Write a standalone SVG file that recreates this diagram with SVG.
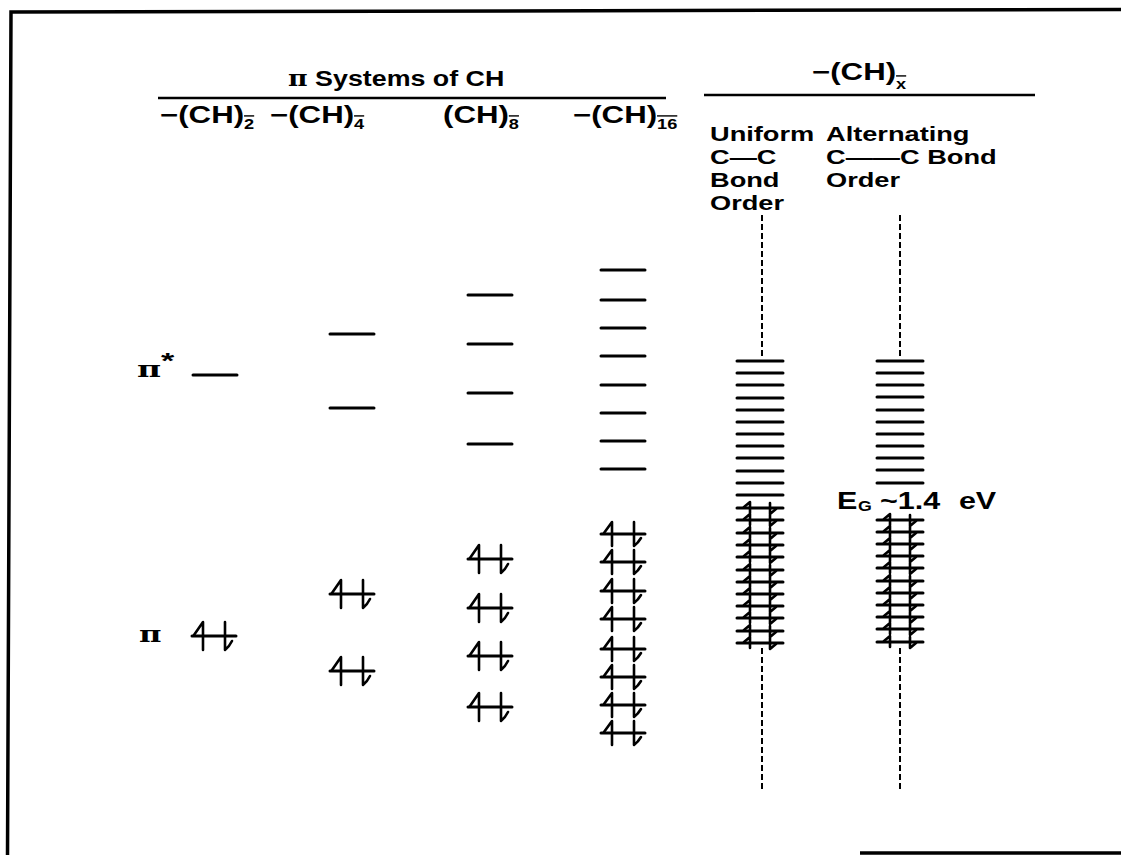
<svg xmlns="http://www.w3.org/2000/svg" width="1121" height="855" viewBox="0 0 1121 855">
  <style>
    .t { font-family: "Liberation Sans", Arial, sans-serif; font-weight: bold; font-size: 22px; fill: #000; }
    .lab { font-size: 24px; }
    .col { font-size: 20px; }
    .sub { font-size: 14px; }
    .pi { font-family: "DejaVu Serif", "Liberation Serif", serif; font-weight: bold; }
    .lvl { stroke: #000; stroke-width: 3; fill: none; stroke-linecap: round; }
    .rule { stroke: #000; stroke-width: 2.5; fill: none; }
    .dash { stroke: #000; stroke-width: 2; stroke-dasharray: 6 3; fill: none; }
    .arr { stroke: #000; stroke-width: 2.6; fill: none; stroke-linecap: round; stroke-linejoin: round; }
    .frame { stroke: #000; stroke-width: 3.5; fill: none; }
  </style>
  <defs>
    <!-- doubly occupied orbital: level with an up and a down half-arrow -->
    <g id="pair">
      <line class="lvl" x1="-22" y1="0" x2="22" y2="0"/>
      <path class="arr" d="M-11 14 V-14 L-20 -1"/>
      <path class="arr" d="M11 -14 V14 Q15 11 18 5"/>
    </g>
    <!-- tighter pair for the dense column -->
    <g id="pairTight">
      <line class="lvl" x1="-22" y1="0" x2="22" y2="0"/>
      <path class="arr" d="M-11 12 V-12 L-19 -1"/>
      <path class="arr" d="M11 -12 V12 Q15 9 18 4"/>
    </g>
    <!-- occupied level inside a band -->
    <g id="bandPair">
      <line class="lvl" x1="-23" y1="0" x2="23" y2="0"/>
      <path class="arr" d="M-10 5 V-6 L-16 -1"/>
      <path class="arr" d="M10 -5 V6 L16 1"/>
    </g>
    <line id="lv" class="lvl" x1="-22" y1="0" x2="22" y2="0"/>
    <line id="bandLv" class="lvl" x1="-23" y1="0" x2="23" y2="0"/>
  </defs>

  <!-- page frame (right side runs off the sheet) -->
  <path class="frame" d="M1125 9.5 L11 12 L7.5 858"/>
  <line class="frame" x1="860" y1="853" x2="1125" y2="853"/>

  <!-- headings -->
  <g id="headings">
    <text class="t" transform="translate(288 86) scale(1.22 1)"><tspan class="pi">π</tspan> Systems of CH</text>
    <line class="rule" x1="158" y1="98" x2="666" y2="98"/>
    <text class="t lab" transform="translate(812 80) scale(1.3 1)">−(CH)<tspan class="sub" dy="9" text-decoration="overline">x</tspan></text>
    <line class="rule" x1="704" y1="95" x2="1035" y2="95"/>
    <text class="t lab" transform="translate(160 123) scale(1.3 1)">−(CH)<tspan class="sub" dy="6" text-decoration="overline">2</tspan></text>
    <text class="t lab" transform="translate(270 123) scale(1.3 1)">−(CH)<tspan class="sub" dy="6" text-decoration="overline">4</tspan></text>
    <text class="t lab" transform="translate(443 123) scale(1.3 1)">(CH)<tspan class="sub" dy="6" text-decoration="overline">8</tspan></text>
    <text class="t lab" transform="translate(573 123) scale(1.3 1)">−(CH)<tspan class="sub" dy="6" text-decoration="overline">16</tspan></text>
    <text class="t col" transform="translate(710 141) scale(1.36 1)">Uniform</text>
    <text class="t col" transform="translate(710 164) scale(1.36 1)">C—C</text>
    <text class="t col" transform="translate(710 187) scale(1.36 1)">Bond</text>
    <text class="t col" transform="translate(710 210) scale(1.36 1)">Order</text>
    <text class="t col" transform="translate(826 141) scale(1.36 1)">Alternating</text>
    <text class="t col" transform="translate(826 164) scale(1.36 1)">C——C Bond</text>
    <text class="t col" transform="translate(826 187) scale(1.36 1)">Order</text>
  </g>

  <!-- ethylene -->
  <g id="ch2">
    <text class="t pi" transform="translate(137 377) scale(1.5 1)" font-size="26">π</text>
    <text class="t" transform="translate(161 368) scale(1.55 1)" font-size="36">*</text>
    <use href="#lv" x="215" y="375"/>
    <text class="t pi" transform="translate(139 642) scale(1.4 1)" font-size="23">π</text>
    <use href="#pair" x="214" y="636"/>
  </g>

  <!-- butadiene -->
  <g id="ch4">
    <use href="#lv" x="352" y="334"/>
    <use href="#lv" x="352" y="408"/>
    <use href="#pair" x="352" y="594"/>
    <use href="#pair" x="352" y="671"/>
  </g>

  <!-- octatetraene -->
  <g id="ch8">
    <use href="#lv" x="490" y="295"/>
    <use href="#lv" x="490" y="344"/>
    <use href="#lv" x="490" y="393"/>
    <use href="#lv" x="490" y="444"/>
    <use href="#pair" x="490" y="559"/>
    <use href="#pair" x="490" y="608"/>
    <use href="#pair" x="490" y="656"/>
    <use href="#pair" x="490" y="707"/>
  </g>

  <!-- sixteen-carbon chain -->
  <g id="ch16">
    <use href="#lv" x="623" y="270"/>
    <use href="#lv" x="623" y="300"/>
    <use href="#lv" x="623" y="328"/>
    <use href="#lv" x="623" y="356"/>
    <use href="#lv" x="623" y="385"/>
    <use href="#lv" x="623" y="413"/>
    <use href="#lv" x="623" y="441"/>
    <use href="#lv" x="623" y="469"/>
    <use href="#pairTight" x="623" y="534"/>
    <use href="#pairTight" x="623" y="562"/>
    <use href="#pairTight" x="623" y="591"/>
    <use href="#pairTight" x="623" y="619"/>
    <use href="#pairTight" x="623" y="649"/>
    <use href="#pairTight" x="623" y="677"/>
    <use href="#pairTight" x="623" y="705"/>
    <use href="#pairTight" x="623" y="733"/>
  </g>

  <!-- infinite chain, uniform bond order: continuous band -->
  <g id="uniform">
    <use href="#bandLv" x="760" y="361"/>
    <use href="#bandLv" x="760" y="373"/>
    <use href="#bandLv" x="760" y="385"/>
    <use href="#bandLv" x="760" y="398"/>
    <use href="#bandLv" x="760" y="410"/>
    <use href="#bandLv" x="760" y="422"/>
    <use href="#bandLv" x="760" y="434"/>
    <use href="#bandLv" x="760" y="446"/>
    <use href="#bandLv" x="760" y="458"/>
    <use href="#bandLv" x="760" y="471"/>
    <use href="#bandLv" x="760" y="483"/>
    <use href="#bandLv" x="760" y="495"/>
    <use href="#bandPair" x="760" y="508"/>
    <use href="#bandPair" x="760" y="520"/>
    <use href="#bandPair" x="760" y="533"/>
    <use href="#bandPair" x="760" y="545"/>
    <use href="#bandPair" x="760" y="557"/>
    <use href="#bandPair" x="760" y="570"/>
    <use href="#bandPair" x="760" y="582"/>
    <use href="#bandPair" x="760" y="594"/>
    <use href="#bandPair" x="760" y="606"/>
    <use href="#bandPair" x="760" y="618"/>
    <use href="#bandPair" x="760" y="631"/>
    <use href="#bandPair" x="760" y="643"/>
  </g>

  <!-- infinite chain, alternating bond order: band gap -->
  <g id="alternating">
    <use href="#bandLv" x="900" y="361"/>
    <use href="#bandLv" x="900" y="373"/>
    <use href="#bandLv" x="900" y="385"/>
    <use href="#bandLv" x="900" y="397"/>
    <use href="#bandLv" x="900" y="410"/>
    <use href="#bandLv" x="900" y="422"/>
    <use href="#bandLv" x="900" y="434"/>
    <use href="#bandLv" x="900" y="446"/>
    <use href="#bandLv" x="900" y="458"/>
    <use href="#bandLv" x="900" y="470"/>
    <use href="#bandLv" x="900" y="483"/>
    <use href="#bandPair" x="900" y="520"/>
    <use href="#bandPair" x="900" y="532"/>
    <use href="#bandPair" x="900" y="544"/>
    <use href="#bandPair" x="900" y="556"/>
    <use href="#bandPair" x="900" y="568"/>
    <use href="#bandPair" x="900" y="581"/>
    <use href="#bandPair" x="900" y="593"/>
    <use href="#bandPair" x="900" y="605"/>
    <use href="#bandPair" x="900" y="617"/>
    <use href="#bandPair" x="900" y="629"/>
    <use href="#bandPair" x="900" y="642"/>
    <text class="t lab" transform="translate(837 509) scale(1.27 1)">E<tspan class="sub" x="16.5" dy="2">G</tspan><tspan x="33.9" dy="-2">~1.4</tspan><tspan x="96">eV</tspan></text>
  </g>

  <!-- band continuation guides -->
  <g id="connectors">
    <line class="dash" x1="762" y1="215" x2="762" y2="358"/>
    <line class="dash" x1="762" y1="648" x2="762" y2="792"/>
    <line class="dash" x1="900" y1="215" x2="900" y2="358"/>
    <line class="dash" x1="900" y1="648" x2="900" y2="792"/>
  </g>
</svg>
